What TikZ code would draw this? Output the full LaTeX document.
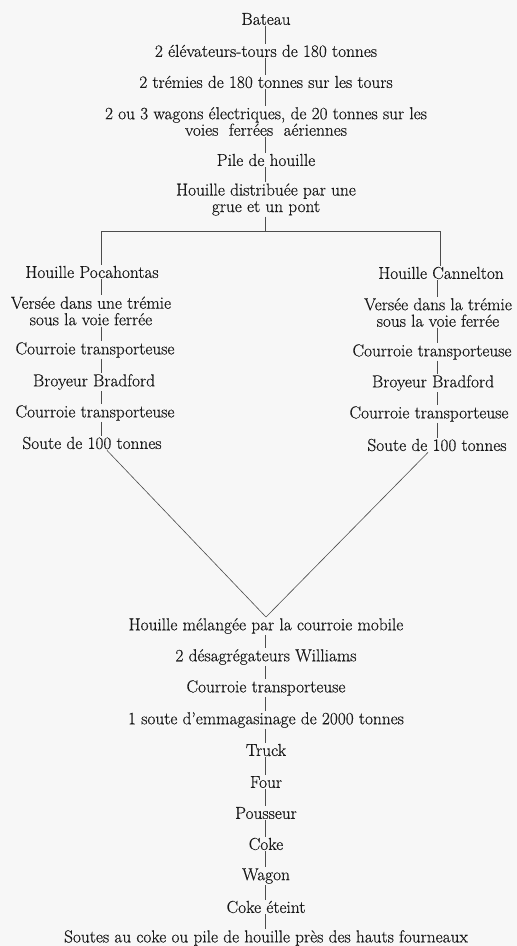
\documentclass[tikz,border=0pt]{standalone}
\usepackage{fontspec}
\newfontfamily\platefont{Latin Modern Roman}[Ligatures=TeX, FakeBold=0.45]
\usetikzlibrary{calc}

\begin{document}
\begin{tikzpicture}[x=1pt, y=-1pt,
  stage/.style={inner sep=1pt, align=center, text=black!90,
    font=\platefont\fontsize{17.3}{16.5}\selectfont},
  link/.style={black!70, line width=0.6pt}]
  \fill[black!3] (0,0) rectangle (517,946);
  \useasboundingbox (0,0) rectangle (517,946);
  % spines
  \coordinate (mspine) at (265,0);
  \coordinate (lspine) at (101,0);
  \coordinate (rspine) at (437,0);
  % unloading
  \node[stage] (bateau)  at (266,19)    {Bateau};
  \node[stage] (elev)    at (266,51)    {2 élévateurs-tours de 180 tonnes};
  \node[stage] (tremies) at (266,82)    {2 trémies de 180 tonnes sur les tours};
  \node[stage] (wagons)  at (266,121.5) {2 ou 3 wagons électriques, de 20 tonnes sur les\\voies\ \ ferrées\ \ aériennes};
  \node[stage] (pile)    at (266,160)   {Pile de houille};
  \node[stage] (grue)    at (266,199.5) {Houille distribuée par une\\grue et un pont};
  \foreach \a/\b in {bateau/elev, tremies/wagons, elev/tremies, wagons/pile, pile/grue}
    \draw[link] (\a.south -| mspine) -- (\b.north -| mspine);
  % fork
  \coordinate (fork)  at (265,231);
  \coordinate (forkl) at (101,231);
  \coordinate (forkr) at (440,231);
  \draw[link] (grue.south -| mspine) -- (fork);
  \draw[link] (forkl) -- (forkr);
  % Pocahontas
  \node[stage] (poca)   at (92,272)  {Houille Pocahontas};
  \node[stage] (versl)  at (91,311)  {Versée dans une trémie\\sous la voie ferrée};
  \node[stage] (courl)  at (95,350)  {Courroie transporteuse};
  \node[stage] (broyl)  at (94,382)  {Broyeur Bradford};
  \node[stage] (courlb) at (95,413)  {Courroie transporteuse};
  \node[stage] (soutel) at (92,443)  {Soute de 100 tonnes};
  \draw[link] (forkl) -- (poca.north -| forkl);
  \foreach \a/\b in {poca/versl, versl/courl, courl/broyl, broyl/courlb, courlb/soutel}
    \draw[link] (\a.south -| lspine) -- (\b.north -| lspine);
  % Cannelton
  \node[stage] (cann)   at (441,273)   {Houille Cannelton};
  \node[stage] (versr)  at (438,312.5) {Versée dans la trémie\\sous la voie ferrée};
  \node[stage] (courr)  at (432,352)   {Courroie transporteuse};
  \node[stage] (broyr)  at (433,383)   {Broyeur Bradford};
  \node[stage] (courrb) at (429,414)   {Courroie transporteuse};
  \node[stage] (souter) at (437,445)   {Soute de 100 tonnes};
  \draw[link] (forkr) -- (cann.north -| forkr);
  \foreach \a/\b in {cann/versr, versr/courr, courr/broyr, broyr/courrb, courrb/souter}
    \draw[link] (\a.south -| rspine) -- (\b.north -| rspine);
  % mixing and coking
  \node[stage] (melange)  at (266,626) {Houille mélangée par la courroie mobile};
  \node[stage] (williams) at (266,657) {2 désagrégateurs Williams};
  \node[stage] (courm)    at (266,688) {Courroie transporteuse};
  \node[stage] (soutem)   at (266,720) {1 soute d’emmagasinage de 2000 tonnes};
  \node[stage] (truck)    at (266,750) {Truck};
  \node[stage] (four)     at (266,782) {Four};
  \node[stage] (pousseur) at (266,813) {Pousseur};
  \node[stage] (coke)     at (266,844) {Coke};
  \node[stage] (wagon)    at (266,876) {Wagon};
  \node[stage] (eteint)   at (266,907) {Coke éteint};
  \node[stage] (hauts)    at (266,938) {Soutes au coke ou pile de houille près des hauts fourneaux};
  \draw[link] ([xshift=15pt]soutel.south) -- (melange.north);
  \draw[link] ([xshift=-9pt]souter.south) -- (melange.north);
  \foreach \a/\b in {melange/williams, williams/courm, courm/soutem, soutem/truck, truck/four,
                     four/pousseur, pousseur/coke, coke/wagon, wagon/eteint, eteint/hauts}
    \draw[link] (\a.south -| mspine) -- (\b.north -| mspine);
\end{tikzpicture}
\end{document}
